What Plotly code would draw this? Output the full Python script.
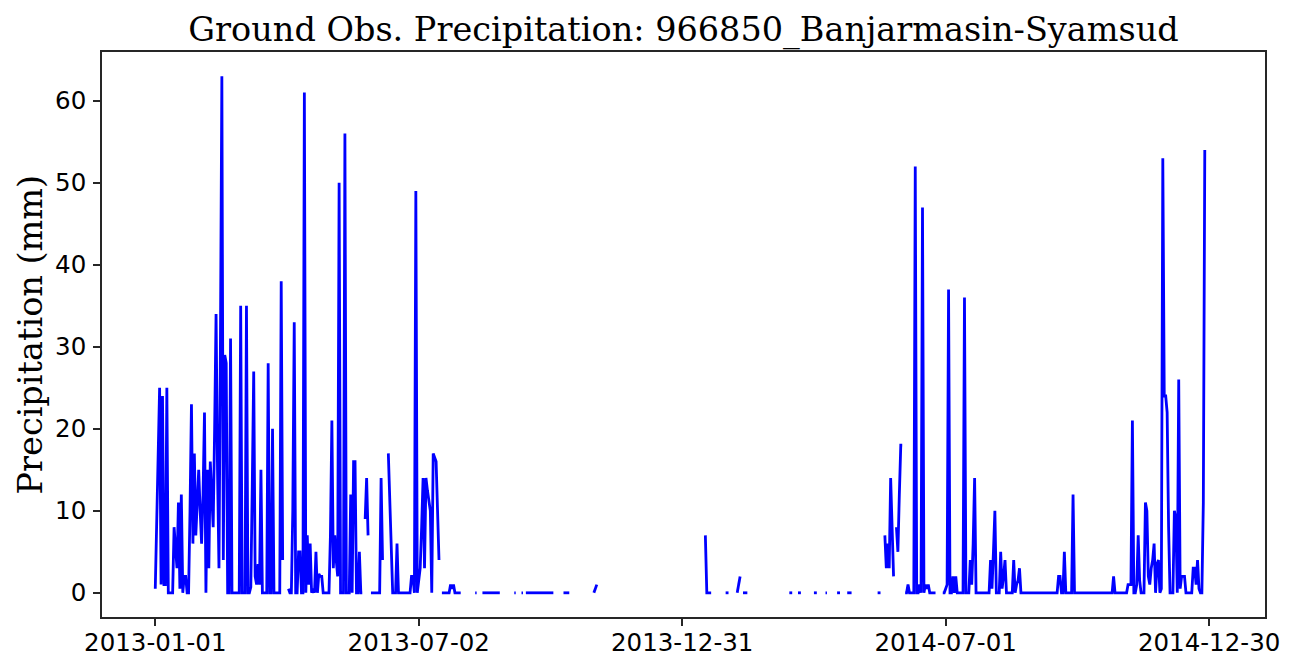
import pandas as pd
import plotly.graph_objects as go

# ---- data: daily precipitation (mm), contiguous observed runs; gaps are missing days ----
seg_starts = [
    "2013-01-01", "2013-04-03", "2013-05-26", "2013-05-30", "2013-06-11", "2013-07-18",
    "2013-08-10", "2013-08-15", "2013-09-06", "2013-09-11", "2013-09-14", "2013-10-10",
    "2013-10-31", "2014-01-16", "2014-01-30", "2014-02-07", "2014-02-11", "2014-03-15",
    "2014-03-21", "2014-04-01", "2014-04-09", "2014-04-17", "2014-04-24", "2014-05-15",
    "2014-05-20", "2014-05-28", "2014-06-03", "2014-06-29",
]

seg_values = [
    # 2013-01-01 .. 2013-03-30
    [0.5, 8, 16, 25, 1, 24, 1, 1, 25, 0,
     0, 0, 0, 8, 5, 3, 11, 0.5, 12, 0,
     2, 2, 0, 0, 10, 23, 6, 17, 7, 11,
     15, 10, 6, 12, 22, 0, 15, 3, 16, 12,
     8, 20, 34, 15, 3, 30, 63, 4, 29, 28,
     0, 0, 31, 0, 0, 0, 0, 0, 0, 35,
     0, 0, 0, 35, 0, 0, 0.7, 13, 27, 2,
     1, 3.5, 1, 15, 0, 0, 0, 0, 28, 0,
     0, 20, 0, 0, 0, 0, 0, 38, 4],
    # 2013-04-03 .. 2013-05-24
    [0.5, 0, 0, 10, 33, 0, 0, 5, 5, 0,
     0, 61, 0, 7, 1, 6, 0, 0.5, 0, 5,
     0, 2.3, 2, 2, 0, 0, 0, 0, 0, 7,
     21, 3, 7, 4, 2, 50, 0, 0, 0, 56,
     0, 0, 0, 12, 0, 16, 16, 0, 0, 5,
     0, 0],
    [9, 14, 7],
    [0, 0, 0, 0, 0, 0, 0, 14, 4],
    # 2013-06-11 .. 2013-07-16
    [17, 11, 5, 0, 0, 0, 6, 0, 0, 0,
     0, 0, 0, 0, 0, 0, 2, 2, 0, 49,
     0, 2, 3, 8, 14, 3, 14, 12.5, 11, 10,
     0, 17, 16.5, 16, 10, 4],
    [0, 0, 0, 0, 0, 0, 1, 0.5, 1, 0, 0, 0, 0, 0],
    [0, 0],
    [0, 0, 0, 0, 0, 0, 0, 0, 0, 0, 0, 0, 0],
    [0, 0],
    [0, 0],
    [0, 0, 0, 0, 0, 0, 0, 0, 0, 0, 0, 0, 0, 0, 0, 0, 0, 0, 0, 0],
    [0, 0, 0, 0, 0],
    [0, 0.5, 1],
    [7, 0, 0, 0, 0],
    [0, 0, 0],
    [0, 1, 2],
    [0, 0, 0, 0],
    [0, 0, 0],
    [0, 0, 0],
    [0, 0, 0],
    [0, 0],
    [0, 0, 0],
    [0, 0, 0, 0],
    [0, 0, 0],
    [7, 3, 6, 3, 14, 8, 2],
    [8, 5, 12, 18, 18],
    [0, 0, 1, 0, 0, 0, 0, 52, 0, 0, 1, 0, 47, 0, 1, 0.5, 1, 0, 0, 0, 0, 0],
    # 2014-06-29 .. 2014-12-27
    [0, 0, 0.5, 1, 37, 0, 0, 2, 0, 2,
     0, 0, 0, 0, 0, 36, 0, 0, 0, 4,
     1, 6, 14, 0, 0, 0, 0, 0, 0, 0,
     0, 0, 0, 4, 0.5, 5, 10, 0, 0, 0,
     5, 0.5, 2, 4, 0, 0, 0, 0, 0, 4,
     0, 1, 1.5, 3, 0, 0, 0, 0, 0, 0,
     0, 0, 0, 0, 0, 0, 0, 0, 0, 0,
     0, 0, 0, 0, 0, 0, 0, 0, 0, 0,
     2, 2, 0, 0, 5, 0, 0, 0, 0, 0,
     12, 0, 0, 0, 0, 0, 0, 0, 0, 0,
     0, 0, 0, 0, 0, 0, 0, 0, 0, 0,
     0, 0, 0, 0, 0, 0, 0, 0, 2, 0,
     0, 0, 0, 0, 0, 0, 0, 0, 1, 1,
     1, 21, 0, 0, 1, 7, 1.5, 0, 0, 0,
     11, 10, 2, 1, 3, 4, 6, 0, 3.5, 4,
     0, 0.5, 53, 24, 24, 22, 8, 0, 0, 0,
     10, 9, 0, 26, 0.5, 2, 2, 2, 0, 0,
     0, 0, 0, 3, 3, 1, 4, 0.5, 0, 0,
     11, 54],
]

tick_labels = ["2013-01-01", "2013-07-02", "2013-12-31", "2014-07-01", "2014-12-30"]
y_ticks = [0, 10, 20, 30, 40, 50, 60]

# ---- build series with breaks at missing days ----
xs, ys = [], []
for start, vals in zip(seg_starts, seg_values):
    dates = pd.date_range(start, periods=len(vals), freq="D")
    xs.extend(dates)
    ys.extend(vals)
    xs.append(dates[-1] + pd.Timedelta(days=1))
    ys.append(None)

origin = pd.Timestamp("2013-01-01")
x_range = [origin - pd.Timedelta(days=36.8), origin + pd.Timedelta(days=766.6)]

fig = go.Figure()
fig.add_trace(go.Scatter(
    x=xs, y=ys, mode="lines", connectgaps=False,
    line=dict(color="#0000ff", width=2.8),
    showlegend=False, hoverinfo="skip",
))

axis_common = dict(
    showline=True, linecolor="#262626", linewidth=1.6, mirror=True,
    ticks="outside", ticklen=7, tickwidth=1.6, tickcolor="#262626",
    showgrid=False, zeroline=False,
    tickfont=dict(family="DejaVu Sans", size=24.5, color="black"),
)

# page body adds an 8px offset, so the figure margins are reduced accordingly
fig.update_layout(
    width=1297, height=672,
    margin=dict(l=94, r=40, t=44, b=63),
    paper_bgcolor="white", plot_bgcolor="white",
    title=dict(
        text="Ground Obs. Precipitation: 966850_Banjarmasin-Syamsud",
        font=dict(family="DejaVu Serif", size=33.5, color="black"),
        x=0.5, xref="paper", xanchor="center",
        y=1 - 21 / 672, yref="container", yanchor="middle",
    ),
    xaxis=dict(
        range=x_range, type="date",
        tickmode="array", tickvals=tick_labels, ticktext=tick_labels,
        ticklabelstandoff=-4,
        **axis_common,
    ),
    yaxis=dict(
        range=[-2.95, 65.95],
        tickmode="array", tickvals=y_ticks, ticktext=[str(v) for v in y_ticks],
        ticklabelstandoff=2,
        **axis_common,
    ),
    annotations=[dict(
        text="Precipitation (mm)", textangle=-90,
        xref="paper", yref="paper", x=(22 - 94) / 1163, y=0.5,
        xanchor="center", yanchor="middle", showarrow=False,
        font=dict(family="DejaVu Serif", size=33.5, color="black"),
    )],
)

fig.write_html("out.html")
